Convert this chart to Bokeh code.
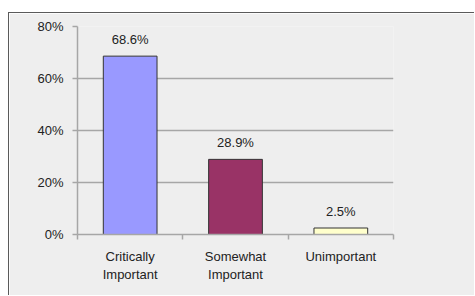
from bokeh.plotting import figure
from bokeh.models import ColumnDataSource, FixedTicker, PrintfTickFormatter, Range1d
from bokeh.core.properties import value
from bokeh.embed import file_html
from bokeh.resources import INLINE

categories = ["Critically\nImportant", "Somewhat\nImportant", "Unimportant"]
percents = [68.6, 28.9, 2.5]
colors = ["#9999ff", "#993366", "#ffffcc"]
y_ticks = [0, 20, 40, 60, 80]

xs = [i + 0.5 for i in range(len(categories))]
labels = [f"{v:.1f}%" for v in percents]
src = ColumnDataSource(dict(x=xs, top=percents, color=colors, label=labels))

FONT = "Liberation Sans"
TXT = "#222222"

p = figure(width=466, height=283, output_backend="svg", toolbar_location=None,
           x_range=Range1d(0, len(categories)), y_range=Range1d(0, y_ticks[-1]),
           min_border_left=68, min_border_right=82, min_border_top=13, min_border_bottom=62)
p.margin = (12, 0, 0, 8)
p.styles = {"border-left": "1px solid #5a5a5a", "border-top": "1px solid #5a5a5a"}
p.background_fill_color = "#eeeeee"
p.border_fill_color = "#eeeeee"
p.outline_line_color = None

p.vbar(x="x", top="top", width=0.51, bottom=0, fill_color="color",
       line_color="#333333", line_width=1, source=src)
p.text(x="x", y="top", text="label", source=src, text_align="center",
       text_baseline="bottom", y_offset=-9, text_font=value(FONT),
       text_font_size="13px", text_color=TXT)

# y axis
p.yaxis.ticker = FixedTicker(ticks=y_ticks)
p.yaxis.formatter = PrintfTickFormatter(format="%d%%")
p.yaxis.axis_line_color = "#a6a6a6"
p.yaxis.axis_line_width = 1.5
p.yaxis.major_tick_line_color = "#a6a6a6"
p.yaxis.major_tick_line_width = 1.5
p.yaxis.major_tick_in = 0
p.yaxis.major_tick_out = 5
p.yaxis.minor_tick_line_color = None
p.yaxis.major_label_standoff = 9
p.yaxis.major_label_text_font = FONT
p.yaxis.major_label_text_font_size = "13px"
p.yaxis.major_label_text_color = TXT

# x axis
p.xaxis.ticker = FixedTicker(ticks=xs, minor_ticks=list(range(len(categories) + 1)))
p.xaxis.major_label_overrides = {x: c for x, c in zip(xs, categories)}
p.xaxis.axis_line_color = "#a6a6a6"
p.xaxis.axis_line_width = 1.5
p.xaxis.major_tick_line_color = None
p.xaxis.minor_tick_line_color = "#a6a6a6"
p.xaxis.minor_tick_line_width = 1.5
p.xaxis.minor_tick_in = 0
p.xaxis.minor_tick_out = 5
p.xaxis.major_label_standoff = 8
p.xaxis.major_label_text_font = FONT
p.xaxis.major_label_text_font_size = "13px"
p.xaxis.major_label_text_color = TXT

p.xgrid.grid_line_color = None
p.ygrid.ticker = FixedTicker(ticks=y_ticks[1:])
p.ygrid.grid_line_color = "#a6a6a6"
p.ygrid.grid_line_width = 1.5

open("out.html", "w").write(file_html(p, INLINE))
